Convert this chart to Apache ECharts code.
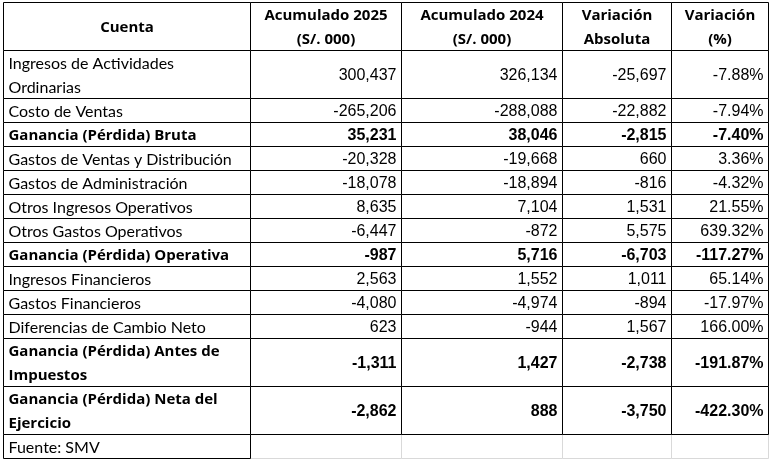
<!DOCTYPE html>
<html>
<head>
<meta charset="utf-8">
<script src="https://cdn.jsdelivr.net/npm/echarts@6/dist/echarts.min.js"></script>
<style>
  html, body { margin: 0; padding: 0; background: #fff; }
  #chart { width: 771px; height: 460px; }
</style>
</head>
<body>
<div id="chart"></div>
<script>
// data
const headers = ['Cuenta', 'Acumulado 2025\n(S/. 000)', 'Acumulado 2024\n(S/. 000)', 'Variación\nAbsoluta', 'Variación\n(%)'];
const cuentas = [
  'Ingresos de Actividades\nOrdinarias',
  'Costo de Ventas',
  'Ganancia (Pérdida) Bruta',
  'Gastos de Ventas y Distribución',
  'Gastos de Administración',
  'Otros Ingresos Operativos',
  'Otros Gastos Operativos',
  'Ganancia (Pérdida) Operativa',
  'Ingresos Financieros',
  'Gastos Financieros',
  'Diferencias de Cambio Neto',
  'Ganancia (Pérdida) Antes de\nImpuestos',
  'Ganancia (Pérdida) Neta del\nEjercicio'
];
const acum2025 = [300437, -265206, 35231, -20328, -18078, 8635, -6447, -987, 2563, -4080, 623, -1311, -2862];
const acum2024 = [326134, -288088, 38046, -19668, -18894, 7104, -872, 5716, 1552, -4974, -944, 1427, 888];
const variacionAbs = [-25697, -22882, -2815, 660, -816, 1531, 5575, -6703, 1011, -894, 1567, -2738, -3750];
const variacionPct = [-7.88, -7.94, -7.40, 3.36, -4.32, 21.55, 639.32, -117.27, 65.14, -17.97, 166.00, -191.87, -422.30];
const filasTotal = [2, 7, 11, 12];
const fuente = 'Fuente: SMV';

// layout
const colEdges = [3, 250, 401, 562, 671, 768];
const lineH = 24;
const rowEdges = [2, 2 + 2 * lineH];
cuentas.forEach(c => rowEdges.push(rowEdges[rowEdges.length - 1] + c.split('\n').length * lineH));
rowEdges.push(rowEdges[rowEdges.length - 1] + lineH);

const fmtNum = v => v.toLocaleString('en-US');
const fmtPct = v => v.toFixed(2) + '%';

// build cells: [col, row]
const cells = [];
headers.forEach((h, c) => cells.push({ value: [c, 0], text: h, bold: true, align: 'center', border: '#000' }));
cuentas.forEach((name, i) => {
  const bold = filasTotal.indexOf(i) >= 0;
  const r = i + 1;
  cells.push({ value: [0, r], text: name, bold, align: 'left', border: '#000' });
  cells.push({ value: [1, r], text: fmtNum(acum2025[i]), bold, align: 'right', num: true, border: '#000' });
  cells.push({ value: [2, r], text: fmtNum(acum2024[i]), bold, align: 'right', num: true, border: '#000' });
  cells.push({ value: [3, r], text: fmtNum(variacionAbs[i]), bold, align: 'right', num: true, border: '#000' });
  cells.push({ value: [4, r], text: fmtPct(variacionPct[i]), bold, align: 'right', num: true, border: '#000' });
});
const lastRow = cuentas.length + 1;
for (let c = 4; c >= 1; c--) cells.unshift({ value: [c, lastRow], text: '', align: 'left', border: '#d9d9d9' });
cells.push({ value: [0, lastRow], text: fuente, align: 'left', border: '#000' });

function fontFor(cell) {
  if (cell.num) return { size: 16, family: '"Liberation Sans", Arial, sans-serif' };
  if (cell.bold) return { size: 15, family: '"Open Sans", Lato, sans-serif' };
  return { size: 16, family: 'Lato, "Noto Sans", sans-serif' };
}

const chart = echarts.init(document.getElementById('chart'), null, { renderer: 'canvas' });
chart.setOption({
  animation: false,
  backgroundColor: '#fff',
  grid: { left: 0, right: 0, top: 0, bottom: 0 },
  xAxis: { type: 'value', min: 0, max: 771, show: false },
  yAxis: { type: 'value', min: 0, max: 460, inverse: true, show: false },
  series: [{
    type: 'custom',
    data: cells,
    renderItem: (params, api) => {
      const cell = cells[params.dataIndex];
      const c = api.value(0), r = api.value(1);
      const p0 = api.coord([colEdges[c], rowEdges[r]]);
      const p1 = api.coord([colEdges[c + 1], rowEdges[r + 1]]);
      const x0 = Math.round(p0[0]) + 0.5, y0 = Math.round(p0[1]) + 0.5;
      const x1 = Math.round(p1[0]) + 0.5, y1 = Math.round(p1[1]) + 0.5;
      const tx = cell.align === 'left' ? x0 + 5 : cell.align === 'right' ? x1 - 5 : (x0 + x1) / 2;
      const f = fontFor(cell);
      return {
        type: 'group',
        children: [
          { type: 'rect', shape: { x: x0, y: y0, width: x1 - x0, height: y1 - y0 },
            style: { fill: '#fff', stroke: cell.border, lineWidth: 1 } },
          { type: 'text', x: tx, y: (y0 + y1) / 2 + 1,
            style: {
              text: cell.text, fill: '#000', align: cell.align, verticalAlign: 'middle',
              fontSize: f.size, lineHeight: lineH,
              fontWeight: cell.bold ? 'bold' : 'normal',
              fontFamily: f.family
            } }
        ]
      };
    }
  }]
});
</script>
</body>
</html>
